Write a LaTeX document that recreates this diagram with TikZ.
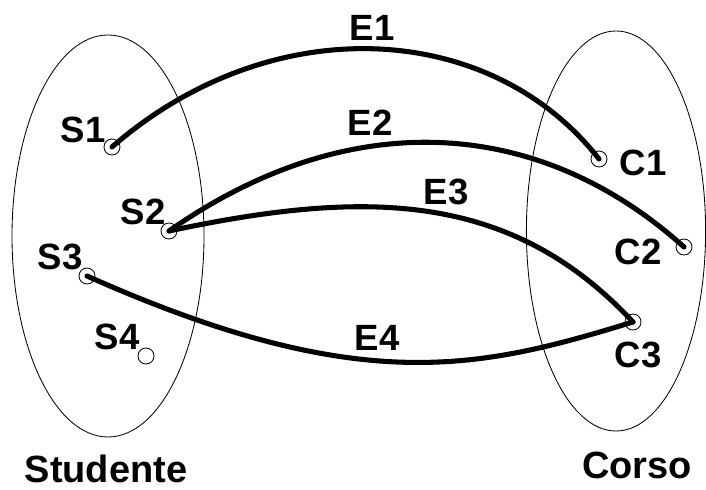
\documentclass[tikz,border=0pt]{standalone}
\usepackage{fontspec}
\setmainfont{Liberation Sans}
\usepackage{tikz}
\usetikzlibrary{shapes.geometric}
\tikzset{pt/.style={circle, draw, inner sep=0pt, minimum size=0.4cm, line width=0.6pt},
  lbl/.style={font=\bfseries\fontsize{26}{30}\selectfont, inner sep=0pt},
  setname/.style={font=\bfseries\fontsize{27}{31}\selectfont, inner sep=0pt},
  link/.style={line width=3.6pt, line cap=round}}

\begin{document}
\begin{tikzpicture}
\useasboundingbox (0,0) rectangle (17.65,12.25);
\node[ellipse, draw, line width=0.6pt, minimum width=4.8cm, minimum height=10.05cm] (setS) at (2.7,6.35) {};
\node[ellipse, draw, line width=0.6pt, minimum width=4.48cm, minimum height=10cm] (setC) at (15.4,6.475) {};

\node[pt] (s1) at (2.8,8.575) {};
\node[pt] (s2) at (4.225,6.475) {};
\node[pt] (s3) at (2.175,5.35) {};
\node[pt] (s4) at (3.65,3.35) {};
\node[pt] (c1) at (14.975,8.275) {};
\node[pt] (c2) at (17.1,6.075) {};
\node[pt] (c3) at (15.825,4.2) {};

\node[lbl] (ls1) at (2.075,9.0) {S1};
\node[lbl] (ls2) at (3.575,6.95) {S2};
\node[lbl] (ls3) at (1.5,5.825) {S3};
\node[lbl] (ls4) at (2.925,3.825) {S4};
\node[lbl] (lc1) at (16.075,8.175) {C1};
\node[lbl] (lc2) at (15.95,5.95) {C2};
\node[lbl] (lc3) at (15.95,3.375) {C3};
\node[setname] (studente) at (2.65,0.525) {Studente};
\node[setname] (corso) at (15.925,0.625) {Corso};

\node[lbl] (e1) at (9.3,11.55) {E1};
\node[lbl] (e2) at (9.25,9.175) {E2};
\node[lbl] (e3) at (11.15,7.45) {E3};
\node[lbl] (e4) at (9.425,3.8) {E4};

\draw[link] (s1.center) to[out=41, in=128, out distance=5.3cm, in distance=4.4cm] (c1.center);
\draw[link] (s2.center) to[out=35, in=138, out distance=5.6cm, in distance=4.8cm] (c2.center);
\draw[link] (s2.center) to[out=12, in=133, out distance=5cm, in distance=4.5cm] (c3.center);
\draw[link] (s3.center) to[out=-24, in=197, out distance=7.5cm, in distance=4cm] (c3.center);
\end{tikzpicture}
\end{document}
